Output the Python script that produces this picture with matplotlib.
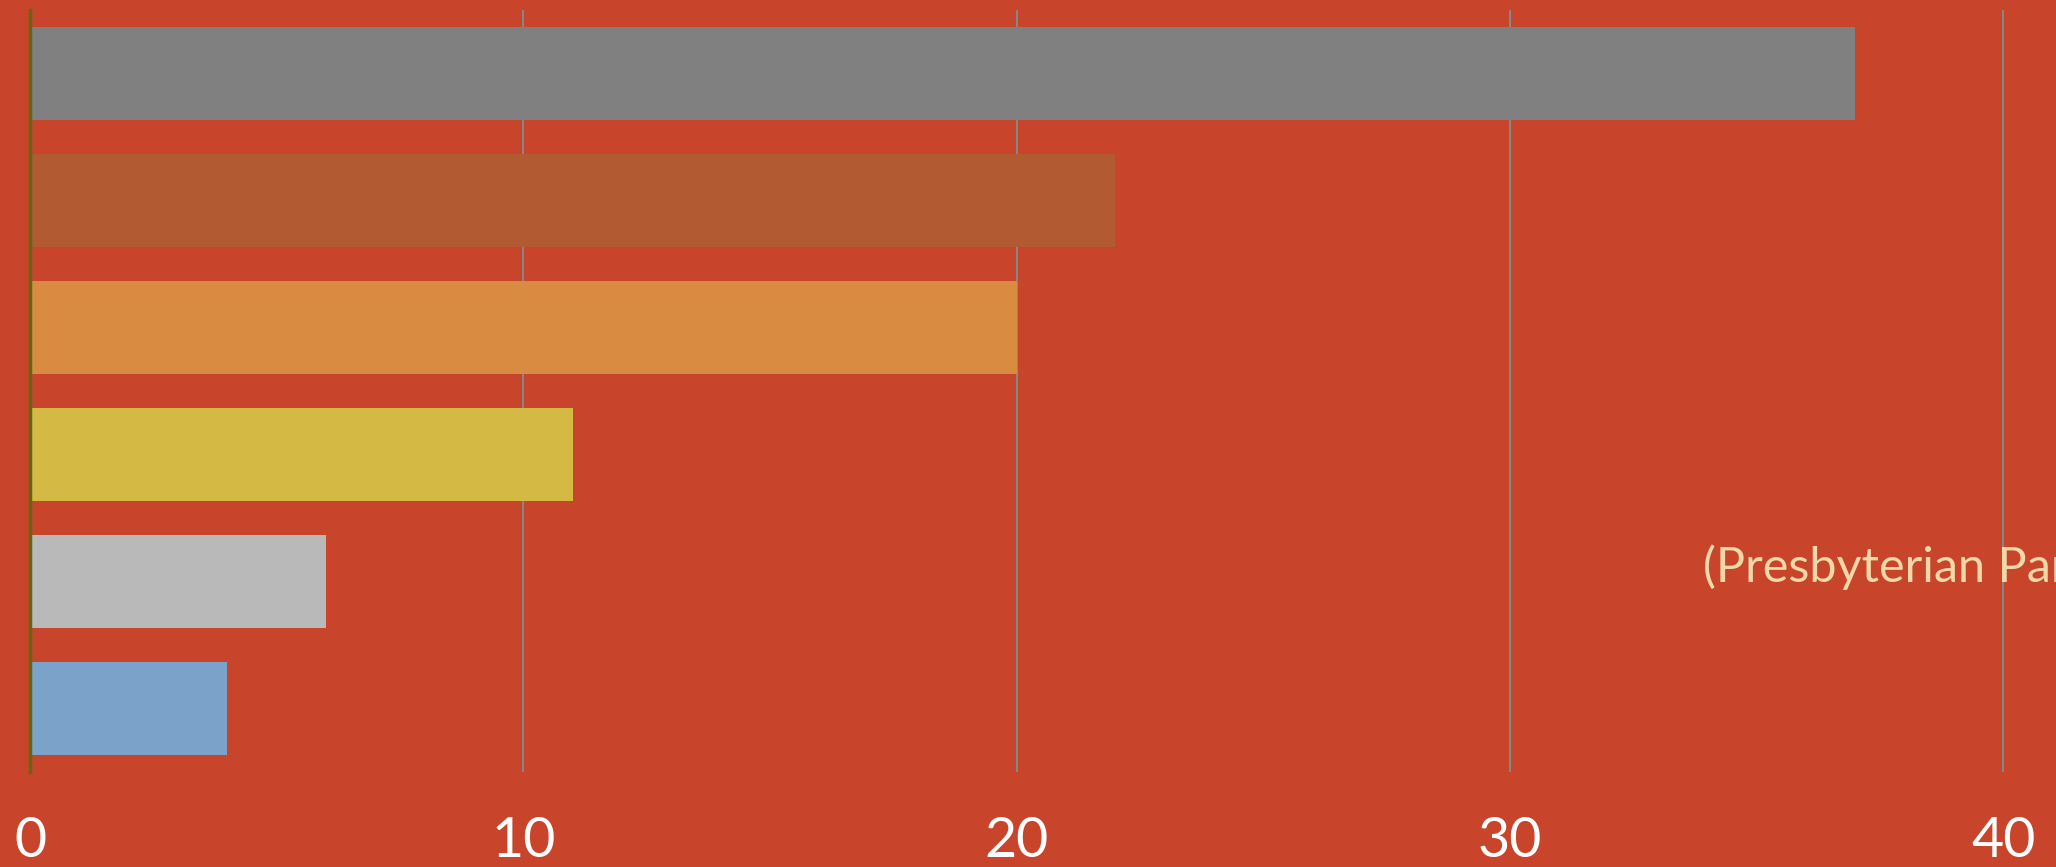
import matplotlib
matplotlib.use("Agg")
import matplotlib.pyplot as plt

# Bars, top to bottom
categories = ["A", "B", "C", "D", "E", "F"]
values = [37, 22, 20, 11, 6, 4]
colors = ["#808080", "#B25B33", "#D98B42", "#D5B945", "#B9B9B9", "#7BA3C9"]

xticks = [0, 10, 20, 30, 40]
note = "(Presbyterian Panel Survey)"

BG = "#C8452B"

fig = plt.figure(figsize=(20.56, 8.67), dpi=100)
fig.patch.set_facecolor(BG)

ax = fig.add_axes([30 / 2056, 1 - 772 / 867, 1 - 30 / 2056, 762 / 867])
ax.set_facecolor(BG)

ypos = list(range(len(categories)))
ax.barh(ypos, values, height=0.74, color=colors, zorder=2)

ax.set_xlim(0, 2026 / 49.33)
ax.set_ylim(len(categories) - 0.5, -0.5)

ax.set_xticks(xticks)
ax.set_xticklabels([str(t) for t in xticks], fontsize=40, color="white",
                   family=["Lato", "DejaVu Sans"])
ax.tick_params(axis="x", length=0, pad=32)
ax.set_yticks([])

ax.grid(axis="x", color="#7E8C8C", linewidth=1.4, zorder=0)
ax.set_axisbelow(True)

for side in ["top", "right", "bottom"]:
    ax.spines[side].set_visible(False)
ax.spines["left"].set_color("#5B6B12")
ax.spines["left"].set_linewidth(2.5)
ax.spines["left"].set_zorder(3)

fig.text(1703 / 2056, 1 - 582 / 867, note, fontsize=35, color="#F0D8A8",
         family=["Lato", "DejaVu Sans"], ha="left", va="baseline")

fig.savefig("out.png", dpi=100, facecolor=BG)
